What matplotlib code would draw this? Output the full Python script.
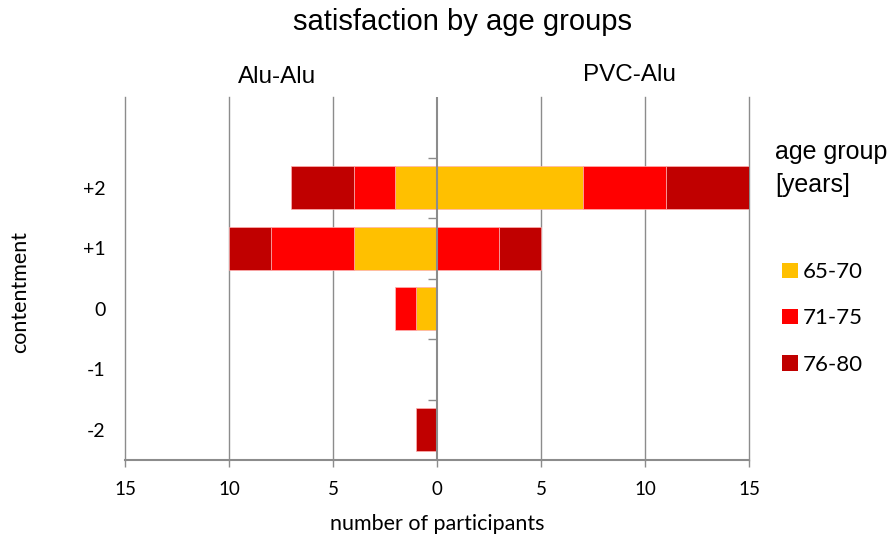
import matplotlib
matplotlib.use("Agg")
import matplotlib.pyplot as plt
import numpy as np
from matplotlib.patches import Patch

plt.rcParams['font.family'] = ['Lato', 'DejaVu Sans']
ARIAL = ['Liberation Sans', 'DejaVu Sans']

categories = ['+2', '+1', '0', '-1', '-2']
age_groups = ['65-70', '71-75', '76-80']
colors = ['#FFC000', '#FF0000', '#C00000']

# Alu-Alu (drawn to the left)
alu_alu = {
    '65-70': [2, 4, 1, 0, 0],
    '71-75': [2, 4, 1, 0, 0],
    '76-80': [3, 2, 0, 0, 1],
}
# PVC-Alu (drawn to the right)
pvc_alu = {
    '65-70': [7, 0, 0, 0, 0],
    '71-75': [4, 3, 0, 0, 0],
    '76-80': [4, 2, 0, 0, 0],
}
xticks = [-15, -10, -5, 0, 5, 10, 15]
xticklabels = ['15', '10', '5', '0', '5', '10', '15']

fig = plt.figure(figsize=(8.93, 5.35), dpi=100)
ax = fig.add_axes([125/893, 1-460/535, (749-125)/893, (460-97)/535])

ypos = np.arange(len(categories))[::-1].astype(float)  # +2 at 4 ... -2 at 0
h = 0.71
left_neg = np.zeros(len(categories))
left_pos = np.zeros(len(categories))
for g, c in zip(age_groups, colors):
    a = np.array(alu_alu[g], dtype=float)
    p = np.array(pvc_alu[g], dtype=float)
    ax.barh(ypos, -a, left=-left_neg, height=h, color=c, edgecolor='#ffb0b0', linewidth=0.5, zorder=3)
    ax.barh(ypos, p, left=left_pos, height=h, color=c, edgecolor='#ffb0b0', linewidth=0.5, zorder=3)
    left_neg += a
    left_pos += p

ax.set_xlim(-15, 15)
ax.set_ylim(-0.5, 5.5)
ax.set_xticks(xticks)
ax.set_xticklabels(xticklabels, fontsize=13.5)
for x in [-15, -10, -5, 5, 10, 15]:
    ax.axvline(x, color='#8c8c8c', linewidth=1.0, zorder=1, clip_on=False)
ax.axvline(0, color='#8c8c8c', linewidth=1.5, zorder=4)
# tick marks on center axis at category boundaries
for yb in np.arange(0.5, 5.0, 1.0):
    ax.plot([-0.45, 0], [yb, yb], color='#8c8c8c', linewidth=1.0, zorder=4, solid_capstyle='butt')

ax.set_yticks(ypos)
ax.set_yticklabels(categories, fontsize=14)
ax.tick_params(axis='y', length=0, pad=14)
ax.tick_params(axis='x', length=5, color='#8c8c8c', width=1.0, pad=10)
for s in ['top', 'right', 'left']:
    ax.spines[s].set_visible(False)
ax.spines['bottom'].set_color('#8c8c8c')
ax.spines['bottom'].set_linewidth(1.5)

ax.set_xlabel('number of participants', fontsize=15.5, labelpad=12)
ax.set_ylabel('contentment', fontsize=15.5)
ax.yaxis.set_label_coords(-(125 - 20) / 624, (460 - 292) / 363)
ax.yaxis.label.set_va('center')

fig.text(463/893, 1-22/535, 'satisfaction by age groups', fontsize=21, ha='center', va='center', family=ARIAL)
fig.text(277/893, 1-77/535, 'Alu-Alu', fontsize=17.5, ha='center', va='center', family=ARIAL)
fig.text(629/893, 1-75/535, 'PVC-Alu', fontsize=17.5, ha='center', va='center', family=ARIAL)
fig.text(775/893, 1-152/535, 'age group', fontsize=18, ha='left', va='center', family=ARIAL)
fig.text(775/893, 1-185/535, '[years]', fontsize=18, ha='left', va='center', family=ARIAL)

handles = [Patch(facecolor=c, edgecolor='none') for c in colors]
fig.legend(handles, age_groups, loc='upper left', bbox_to_anchor=(771/893, 1-251/535),
           frameon=False, fontsize=16, handlelength=0.7, handleheight=0.7,
           handletextpad=0.25, labelspacing=1.18, borderpad=0.0)

fig.savefig('out.png', dpi=100)
